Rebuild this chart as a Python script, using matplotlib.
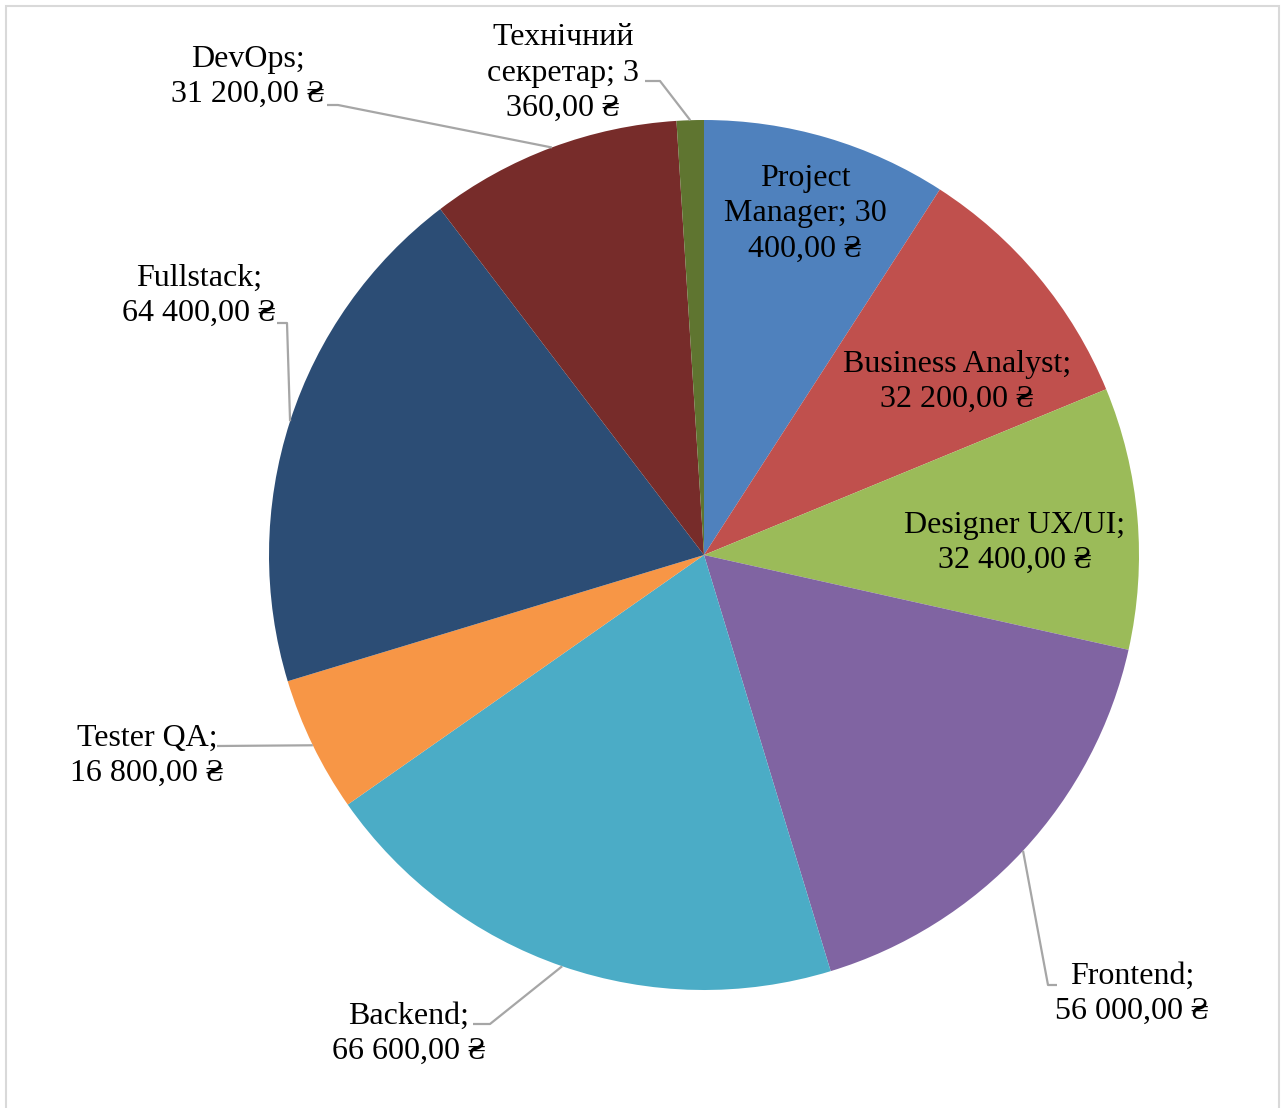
import numpy as np
import matplotlib.pyplot as plt
from matplotlib.patches import Rectangle

roles = ['Project\nManager; 30\n400,00 ₴', 'Business Analyst;\n32 200,00 ₴',
         'Designer UX/UI;\n32 400,00 ₴', 'Frontend;\n56 000,00 ₴',
         'Backend;\n66 600,00 ₴', 'Tester QA;\n16 800,00 ₴',
         'Fullstack;\n64 400,00 ₴', 'DevOps;\n31 200,00 ₴',
         'Технічний\nсекретар; 3\n360,00 ₴']
salaries = [30400, 32200, 32400, 56000, 66600, 16800, 64400, 31200, 3360]
colors = ['#4F81BD', '#C0504D', '#9BBB59', '#8064A2', '#4BACC6',
          '#F79646', '#2C4D75', '#772C2A', '#5F7530']

W, H = 1288, 1108
cx, cy, R = 704, 555, 435

# label centres (pixels, y from top); elbow = start of leader line near the text
label_pos = [(805, 214), (957, 382), (1015, 543), (1132, 994), (409, 1034),
             (147, 756), (199, 296), (248, 77), (563, 73)]
leaders = {3: [(1057, 985), (1048, 985)],
           4: [(473, 1024), (490, 1024)],
           5: [(217, 746)],
           6: [(277, 323), (287, 323)],
           7: [(327, 105), (338, 105)],
           8: [(645, 81), (660, 81)]}

font = ['Liberation Serif', 'DejaVu Serif']

fig = plt.figure(figsize=(W / 100, H / 100), dpi=100)
ax = fig.add_axes([0, 0, 1, 1])

ax.pie(salaries, colors=colors, startangle=90, counterclock=False,
       center=(cx, H - cy), radius=R, wedgeprops=dict(linewidth=0))
ax.set_xlim(0, W)
ax.set_ylim(0, H)
ax.set_aspect('equal')
ax.axis('off')

total = sum(salaries)
start = 90.0
for i, v in enumerate(salaries):
    sweep = v / total * 360
    mid = np.deg2rad(start - sweep / 2)
    start -= sweep
    if i in leaders:
        pts = leaders[i] + [(cx + R * np.cos(mid), cy - R * np.sin(mid))]
        xs = [p[0] for p in pts]
        ys = [H - p[1] for p in pts]
        ax.plot(xs, ys, color='#A6A6A6', lw=1.6, solid_capstyle='butt')
    x, y = label_pos[i]
    ax.text(x, H - y, roles[i], ha='center', va='center', fontsize=23,
            family=font, linespacing=1.3, color='black')

fig.patches.append(Rectangle((6 / W, -0.01), 1273 / W, (H - 6) / H + 0.01,
                             transform=fig.transFigure, fill=False,
                             edgecolor='#D9D9D9', lw=1.5))

fig.savefig('out.png', dpi=100)
